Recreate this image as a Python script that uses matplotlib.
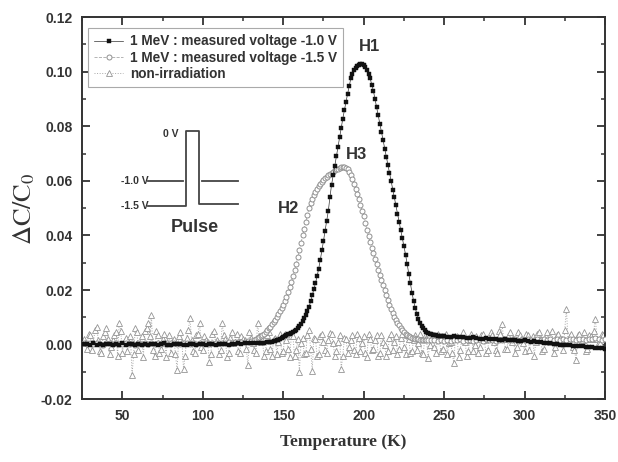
import numpy as np
import matplotlib
matplotlib.use("Agg")
import matplotlib.pyplot as plt
from matplotlib.ticker import MultipleLocator

plt.rcParams['font.family'] = ['Liberation Sans', 'DejaVu Sans']
plt.rcParams['mathtext.fontset'] = 'stix'

# ---------------- data ----------------
# 1 MeV : measured voltage -1.0 V  (2 K steps in the flat parts, 1 K steps over the peak)
t_m10 = np.concatenate([np.arange(26, 140, 2), np.arange(140, 251, 1), np.arange(252, 351, 2)])
s_m10 = [
    # 26 .. 138
    0.0003, 0.0001, -0.0002, 0.0004, 0.0000, 0.0002, -0.0001, 0.0003, 0.0001, -0.0003,
    0.0002, 0.0000, 0.0004, -0.0001, 0.0001, 0.0003, -0.0002, 0.0002, 0.0000, 0.0001,
    -0.0001, 0.0003, 0.0002, -0.0002, 0.0001, 0.0004, 0.0000, -0.0001, 0.0002, 0.0001,
    0.0003, -0.0002, 0.0000, 0.0002, 0.0001, -0.0001, 0.0003, 0.0002, 0.0000, 0.0001,
    0.0002, -0.0001, 0.0003, 0.0001, 0.0002, 0.0000, 0.0003, 0.0002, 0.0004, 0.0003,
    0.0004, 0.0005, 0.0004, 0.0006, 0.0005, 0.0006, 0.0007,
    # 140 .. 250
    0.0008, 0.0009, 0.0010, 0.0011, 0.0012, 0.0014, 0.0016, 0.0018, 0.0021, 0.0024,
    0.0027, 0.0030, 0.0034, 0.0037, 0.0040, 0.0043, 0.0047, 0.0051, 0.0055, 0.0061,
    0.0068, 0.0076, 0.0085, 0.0096, 0.0108, 0.0122, 0.0138, 0.0158, 0.0180, 0.0202,
    0.0225, 0.0250, 0.0278, 0.0310, 0.0345, 0.0380, 0.0418, 0.0453, 0.0490, 0.0540,
    0.0585, 0.0620, 0.0655, 0.0690, 0.0725, 0.0760, 0.0795, 0.0828, 0.0860, 0.0890,
    0.0920, 0.0948, 0.0975, 0.0992, 0.1005, 0.1013, 0.1020, 0.1024, 0.1027, 0.1027,
    0.1025, 0.1017, 0.1005, 0.0992, 0.0975, 0.0953, 0.0930, 0.0900, 0.0870, 0.0840,
    0.0808, 0.0778, 0.0748, 0.0718, 0.0688, 0.0658, 0.0628, 0.0598, 0.0568, 0.0539,
    0.0510, 0.0480, 0.0450, 0.0420, 0.0390, 0.0360, 0.0330, 0.0295, 0.0260, 0.0225,
    0.0190, 0.0160, 0.0135, 0.0113, 0.0095, 0.0080, 0.0068, 0.0059, 0.0052, 0.0047,
    0.0043, 0.0040, 0.0038, 0.0036, 0.0035, 0.0034, 0.0033, 0.0033, 0.0032, 0.0031,
    0.0030,
    # 252 .. 350
    0.0029, 0.0028, 0.0030, 0.0027, 0.0026, 0.0027, 0.0025, 0.0024, 0.0026, 0.0023,
    0.0022, 0.0021, 0.0023, 0.0020, 0.0019, 0.0021, 0.0018, 0.0017, 0.0019, 0.0016,
    0.0015, 0.0017, 0.0014, 0.0013, 0.0015, 0.0012, 0.0011, 0.0012, 0.0010, 0.0008,
    0.0007, 0.0005, 0.0004, 0.0003, 0.0002, 0.0000, -0.0001, -0.0002, -0.0003, -0.0004,
    -0.0005, -0.0006, -0.0007, -0.0008, -0.0009, -0.0010, -0.0011, -0.0012, -0.0013, -0.0015,
]

# 1 MeV : measured voltage -1.5 V
t_m15 = np.concatenate([np.arange(26, 132, 2), np.arange(132, 241, 1), np.arange(242, 351, 2)])
s_m15 = [
    # 26 .. 130
    0.0004, 0.0002, 0.0006, 0.0001, 0.0005, 0.0003, 0.0000, 0.0004, 0.0006, 0.0002,
    0.0005, 0.0001, 0.0003, 0.0006, 0.0002, 0.0004, 0.0000, 0.0005, 0.0003, 0.0006,
    0.0002, 0.0004, 0.0001, 0.0005, 0.0003, 0.0006, 0.0002, 0.0004, 0.0005, 0.0001,
    0.0003, 0.0006, 0.0004, 0.0002, 0.0005, 0.0003, 0.0006, 0.0004, 0.0005, 0.0003,
    0.0006, 0.0005, 0.0004, 0.0007, 0.0006, 0.0008, 0.0007, 0.0009, 0.0008, 0.0010,
    0.0011, 0.0012, 0.0014,
    # 132 .. 240
    0.0018, 0.0021, 0.0024, 0.0027, 0.0031, 0.0035, 0.0040, 0.0046, 0.0052, 0.0059,
    0.0066, 0.0074, 0.0082, 0.0091, 0.0101, 0.0111, 0.0122, 0.0133, 0.0145, 0.0160,
    0.0175, 0.0192, 0.0210, 0.0230, 0.0250, 0.0272, 0.0295, 0.0320, 0.0345, 0.0372,
    0.0400, 0.0425, 0.0450, 0.0475, 0.0500, 0.0518, 0.0535, 0.0548, 0.0560, 0.0570,
    0.0580, 0.0589, 0.0597, 0.0604, 0.0610, 0.0615, 0.0620, 0.0625, 0.0630, 0.0634,
    0.0638, 0.0642, 0.0645, 0.0648, 0.0650, 0.0651, 0.0650, 0.0647, 0.0643, 0.0633,
    0.0620, 0.0605, 0.0588, 0.0570, 0.0552, 0.0532, 0.0512, 0.0491, 0.0470, 0.0445,
    0.0420, 0.0397, 0.0375, 0.0355, 0.0335, 0.0315, 0.0295, 0.0275, 0.0255, 0.0236,
    0.0218, 0.0200, 0.0182, 0.0163, 0.0145, 0.0130, 0.0115, 0.0102, 0.0090, 0.0080,
    0.0070, 0.0061, 0.0053, 0.0046, 0.0040, 0.0035, 0.0031, 0.0028, 0.0025, 0.0023,
    0.0021, 0.0020, 0.0019, 0.0018, 0.0018, 0.0017, 0.0017, 0.0016, 0.0016,
    # 242 .. 350
    0.0015, 0.0017, 0.0013, 0.0016, 0.0014, 0.0018, 0.0012, 0.0016, 0.0015, 0.0019,
    0.0013, 0.0017, 0.0015, 0.0012, 0.0018, 0.0016, 0.0014, 0.0019, 0.0015, 0.0017,
    0.0013, 0.0018, 0.0016, 0.0020, 0.0015, 0.0017, 0.0019, 0.0014, 0.0018, 0.0016,
    0.0020, 0.0017, 0.0015, 0.0019, 0.0018, 0.0021, 0.0016, 0.0019, 0.0017, 0.0022,
    0.0018, 0.0020, 0.0016, 0.0021, 0.0019, 0.0017, 0.0022, 0.0020, 0.0018, 0.0021,
    0.0019, 0.0023, 0.0020, 0.0018, 0.0021,
]

# non-irradiation: values at even temperatures 26..350 and odd temperatures 27..349
non_even = [
    0.0020, -0.0015, 0.0035, 0.0010, 0.0066, -0.0025, 0.0030, 0.0060, -0.0035, 0.0015,
    0.0045, 0.0080, -0.0030, 0.0025, 0.0005, -0.0110, 0.0062, -0.0020, 0.0030, 0.0050,
    0.0078, 0.0108, -0.0040, 0.0035, -0.0015, 0.0040, 0.0010, -0.0030, 0.0020, -0.0094,
    0.0045, -0.0090, 0.0025, 0.0096, -0.0025, 0.0035, 0.0078, -0.0020, 0.0015, -0.0063,
    0.0040, 0.0005, -0.0035, 0.0078, 0.0020, -0.0030, 0.0045, 0.0010, -0.0025, 0.0030,
    0.0015, -0.0075, 0.0025, -0.0020, 0.0078, 0.0010, -0.0040, 0.0035, -0.0015, 0.0020,
    -0.0035, 0.0040, -0.0025, 0.0015, -0.0045, 0.0030, -0.0020, -0.0100, 0.0025, -0.0030,
    0.0053, -0.0095, 0.0020, -0.0035, 0.0040, -0.0020, 0.0015, 0.0040, -0.0040, 0.0010,
    -0.0088, 0.0025, -0.0030, 0.0015, -0.0020, 0.0040, -0.0025, 0.0030, -0.0045, 0.0020,
    -0.0015, 0.0035, -0.0030, 0.0010, -0.0040, 0.0025, -0.0020, 0.0030, -0.0015, 0.0040,
    -0.0035, 0.0020, -0.0025, 0.0035, 0.0005, -0.0030, 0.0030, -0.0050, 0.0020, -0.0010,
    0.0040, -0.0025, 0.0025, -0.0035, 0.0010, -0.0069, 0.0030, -0.0020, 0.0045, -0.0040,
    0.0015, -0.0025, 0.0030, -0.0010, 0.0040, -0.0030, 0.0020, 0.0035, -0.0020, 0.0050,
    0.0075, -0.0015, 0.0030, 0.0010, -0.0030, 0.0045, 0.0020, -0.0025, 0.0035, 0.0015,
    -0.0040, 0.0040, 0.0020, -0.0015, 0.0045, 0.0010, -0.0030, 0.0035, 0.0025, -0.0020,
    0.0132, 0.0030, -0.0010, -0.0057, 0.0040, 0.0015, -0.0025, 0.0035, 0.0020, 0.0095,
    0.0010, 0.0040, 0.0025,
]
non_odd = [
    0.0005, 0.0040, -0.0020, 0.0055, 0.0015, -0.0030, 0.0045, 0.0020, -0.0010, 0.0035,
    -0.0040, 0.0050, 0.0010, -0.0025, 0.0030, -0.0035, 0.0045, 0.0005, -0.0045, 0.0060,
    0.0030, -0.0020, 0.0050, -0.0030, 0.0020, -0.0045, 0.0035, 0.0010, -0.0035, 0.0030,
    0.0010, -0.0040, 0.0055, 0.0015, -0.0030, 0.0040, -0.0010, 0.0030, 0.0010, -0.0035,
    0.0050, 0.0015, -0.0020, 0.0035, -0.0045, 0.0025, 0.0005, 0.0040, -0.0030, 0.0020,
    -0.0015, 0.0045, 0.0005, -0.0030, 0.0030, 0.0015, -0.0025, 0.0045, -0.0040, 0.0025,
    0.0010, -0.0030, 0.0040, -0.0015, 0.0030, -0.0040, 0.0020, 0.0005, -0.0035, 0.0035,
    -0.0015, 0.0025, -0.0040, 0.0030, 0.0010, -0.0030, 0.0042, 0.0005, -0.0025, 0.0035,
    -0.0040, 0.0020, -0.0010, 0.0035, -0.0035, 0.0025, 0.0005, -0.0030, 0.0040, -0.0020,
    0.0015, -0.0040, 0.0035, 0.0000, -0.0025, 0.0040, 0.0010, -0.0035, 0.0025, -0.0010,
    0.0035, -0.0030, 0.0015, -0.0020, 0.0040, -0.0035, 0.0025, 0.0000, 0.0035, -0.0030,
    0.0020, -0.0015, 0.0040, 0.0005, -0.0030, 0.0030, -0.0045, 0.0025, 0.0010, -0.0025,
    0.0040, 0.0000, -0.0030, 0.0035, 0.0015, -0.0020, 0.0045, 0.0010, -0.0030, 0.0040,
    0.0020, -0.0015, 0.0045, 0.0025, -0.0010, 0.0035, 0.0005, 0.0040, -0.0020, 0.0030,
    0.0010, 0.0045, -0.0025, 0.0030, 0.0015, 0.0050, -0.0010, 0.0040, 0.0020, 0.0055,
    0.0015, 0.0040, -0.0020, 0.0035, 0.0010, 0.0045, -0.0015, 0.0030, 0.0050, 0.0020,
    0.0005, 0.0035,
]
t_non = np.arange(26, 351, 1)
s_non = np.empty(len(t_non))
s_non[0::2] = non_even
s_non[1::2] = non_odd

labels = ["1 MeV : measured voltage -1.0 V",
          "1 MeV : measured voltage -1.5 V",
          "non-irradiation"]

xticks = [50, 100, 150, 200, 250, 300, 350]
yticks = [-0.02, 0.00, 0.02, 0.04, 0.06, 0.08, 0.10, 0.12]

# ---------------- figure ----------------
fig = plt.figure(figsize=(6.18, 4.62), dpi=100)
ax = fig.add_axes([0.133, 0.136, 0.846, 0.827])

ax.plot(t_non, s_non, linestyle=':', color='#a8a8a8', lw=0.7, marker='^',
        markersize=3.8, markerfacecolor='white', markeredgecolor='#959595',
        markeredgewidth=0.6, label=labels[2], zorder=2)
ax.plot(t_m15, s_m15, linestyle='--', color='#a8a8a8', lw=0.6, marker='o',
        markersize=3.6, markerfacecolor='white', markeredgecolor='#909090',
        markeredgewidth=0.7, label=labels[1], zorder=3)
ax.plot(t_m10, s_m10, linestyle='-', color='#333333', lw=0.5, marker='s',
        markersize=2.2, markerfacecolor='#111111', markeredgecolor='#111111',
        markeredgewidth=0.3, label=labels[0], zorder=4)

ax.set_xlim(25, 350)
ax.set_ylim(-0.02, 0.12)
ax.set_xticks(xticks)
ax.set_yticks(yticks)
ax.set_yticklabels([f"{v:.2f}" for v in yticks])
ax.xaxis.set_minor_locator(MultipleLocator(25))
ax.yaxis.set_minor_locator(MultipleLocator(0.01))
ax.tick_params(which='both', direction='in', top=True, right=True, color='#333333')
ax.tick_params(which='major', length=6, width=1.3, labelsize=10, pad=7, labelcolor='#333333')
ax.tick_params(which='minor', length=3, width=1.1)
for lab in ax.get_xticklabels() + ax.get_yticklabels():
    lab.set_fontweight('bold')
for sp in ax.spines.values():
    sp.set_linewidth(1.4)
    sp.set_color('#333333')

ax.set_xlabel("Temperature (K)", family='Liberation Serif', fontweight='bold',
              fontsize=12.5, color='#333333', labelpad=8)
ax.set_ylabel(r"$\Delta\mathrm{C/C}_0$", fontsize=19, color='#333333', labelpad=3)

handles, labs = ax.get_legend_handles_labels()
order = [2, 1, 0]
leg = ax.legend([handles[i] for i in order], [labs[i] for i in order],
                loc='upper left', bbox_to_anchor=(0.0115, 0.971), fancybox=False,
                edgecolor='#aaaaaa', framealpha=1, handlelength=2.1,
                borderpad=0.45, labelspacing=0.18, handletextpad=0.5,
                borderaxespad=0, prop={'weight': 'bold', 'size': 9.8})
leg.get_frame().set_linewidth(0.8)
for t in leg.get_texts():
    t.set_color('#333333')

# peak labels
tk = dict(transform=ax.transAxes, fontweight='bold', fontsize=12, color='#333333',
          ha='center', va='center')
ax.text(0.549, 0.922, "H1", **tk)
ax.text(0.524, 0.641, "H3", **tk)
ax.text(0.394, 0.500, "H2", **tk)

# pulse inset (schematic)
lk = dict(transform=ax.transAxes, color='#444444', lw=1.3)
ax.plot([0.126, 0.199, 0.199, 0.224, 0.224, 0.298],
        [0.505, 0.505, 0.702, 0.702, 0.510, 0.510], **lk)
ax.plot([0.126, 0.193], [0.571, 0.571], **lk)
ax.plot([0.230, 0.298], [0.571, 0.571], **lk)
vk = dict(transform=ax.transAxes, fontweight='bold', fontsize=7.5, color='#333333',
          ha='right', va='center')
ax.text(0.184, 0.694, "0 V", **vk)
ax.text(0.128, 0.571, "-1.0 V", **vk)
ax.text(0.128, 0.505, "-1.5 V", **vk)
ax.text(0.216, 0.448, "Pulse", transform=ax.transAxes, fontweight='bold',
        fontsize=13, color='#333333', ha='center', va='center')

fig.savefig("out.png", dpi=100)
